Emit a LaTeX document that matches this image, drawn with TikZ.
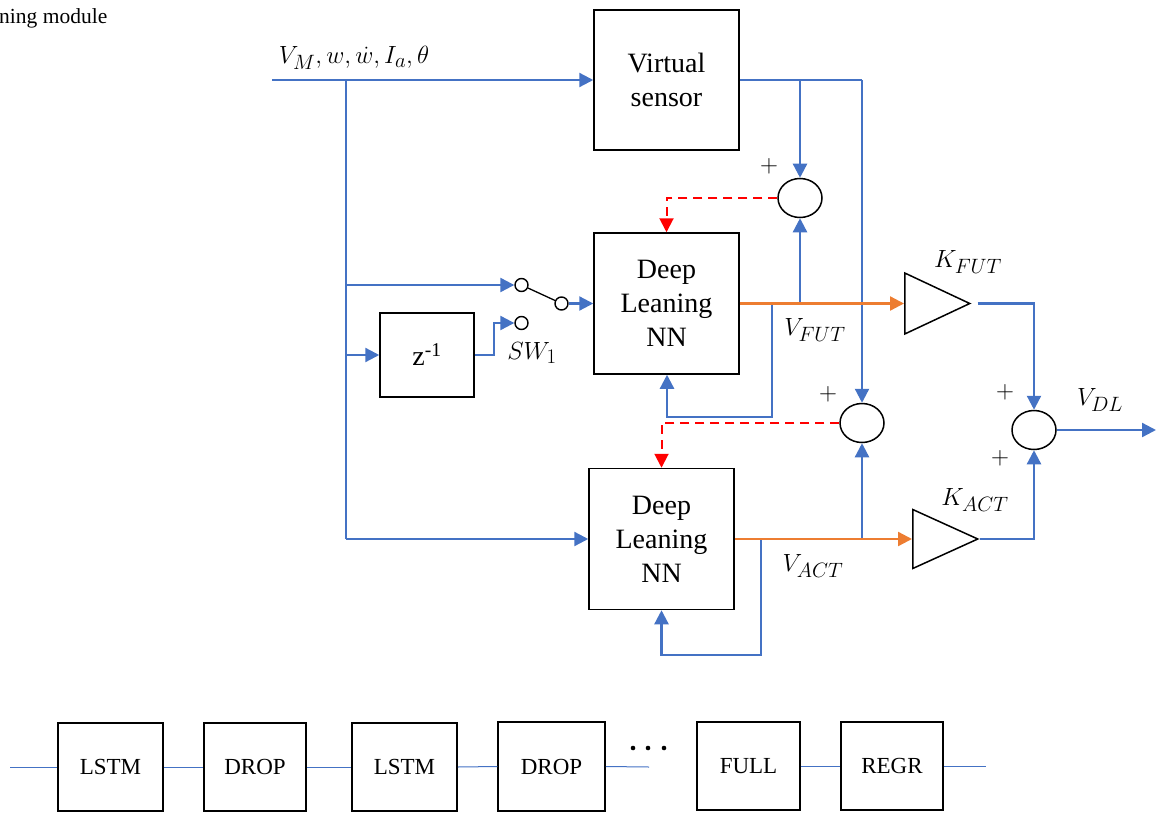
\documentclass[tikz,border=0pt]{standalone}
\usepackage{fontspec}
\setmainfont{Liberation Serif}
\usetikzlibrary{arrows.meta,shapes.geometric}
\definecolor{wblue}{HTML}{4472C4}
\definecolor{worange}{HTML}{ED7D31}
\definecolor{wred}{HTML}{FF0000}
\begin{document}
\begin{tikzpicture}[x=1pt,y=-1pt,
  box/.style={draw=black,line width=1.5pt,inner sep=0pt,align=center,font=\fontsize{28}{34}\selectfont},
  chainbox/.style={draw=black,line width=1.5pt,inner sep=0pt,font=\fontsize{23}{28}\selectfont},
  sumj/.style={draw=black,ellipse,line width=1.5pt,minimum width=44pt,minimum height=39pt,inner sep=0pt},
  gain/.style={draw=black,isosceles triangle,isosceles triangle stretches,line width=1.5pt,minimum width=63pt,minimum height=65pt,inner sep=0pt,anchor=lower side},
  contact/.style={draw=black,circle,line width=1.4pt,minimum size=13pt,inner sep=0pt},
  sig/.style={draw=wblue,line width=2.3pt},
  tip/.style={-{Triangle[length=14pt,width=14pt]}},
  sigarr/.style={sig,tip},
  oarr/.style={draw=worange,line width=2.3pt,tip},
  rarr/.style={draw=wred,line width=2pt,dash pattern=on 9pt off 6pt,tip},
  chainline/.style={draw=wblue,line width=1pt},
  mlabel/.style={font=\fontsize{28}{32}\selectfont,inner sep=0pt},
  plus/.style={font=\fontsize{30}{32}\selectfont,inner sep=0pt}
]
\useasboundingbox (0,0) rectangle (1158,813);

% caption fragment
\node[anchor=west,inner sep=0pt,font=\fontsize{21.5}{24}\selectfont] (cap) at (-1,18) {ning module};

% input label
\node[mlabel] (inlab) at (354,58) {$V_M, w, \dot{w}, I_a, \theta$};

% blocks
\node[box,minimum width=145pt,minimum height=140pt] (vs) at (666.5,80) {Virtual\\sensor};
\node[box,minimum width=145pt,minimum height=141pt] (dl1) at (666.5,303.5) {Deep\\Leaning\\NN};
\node[box,minimum width=145pt,minimum height=141pt] (dl2) at (661.5,539) {Deep\\Leaning\\NN};
\node[box,minimum width=94pt,minimum height=84pt] (z) at (427,355) {z\textsuperscript{-1}};

% summing junctions
\node[sumj] (sum1) at (800,198) {};
\node[sumj] (sum2) at (862,423) {};
\node[sumj] (sum3) at (1034,430) {};

% gains
\node[gain,minimum width=61pt] (kfut) at (904,303.5) {};
\node[gain,minimum width=59pt] (kact) at (912,539) {};

% switch contacts
\node[contact] (c1) at (521.5,285) {};
\node[contact] (c2) at (561.5,303.5) {};
\node[contact] (c3) at (521.5,323) {};

% coordinates
\coordinate (in) at (272,80);
\coordinate (t0) at (346,80);
\coordinate (t1) at (346,285);
\coordinate (t2) at (346,355);
\coordinate (t3) at (346,539);
\coordinate (zk) at (494,323);
\coordinate (v1) at (800,80);
\coordinate (v2) at (862,80);
\coordinate (o1) at (800,303.5);
\coordinate (f1) at (772,303.5);
\coordinate (f1c) at (667,417);
\coordinate (o2) at (862,539);
\coordinate (f2) at (761,539);
\coordinate (f2c) at (661.5,655);
\coordinate (out) at (1156,430);

% input distribution
\draw[sigarr] (in) -- (vs.west);
\draw[sig] (t0) -- (t3);
\draw[sigarr] (t1) -- (c1.west);
\draw[sigarr] (t2) -- (z.west);
\draw[sigarr] (t3) -- (dl2.west);
\draw[sigarr] (z.east) -| (zk) -- (c3.west);

% switch blade
\draw[black,line width=1.3pt] (c1.-25) -- (c2.155);
\draw[sigarr] (c2.east) -- (dl1.west);

% virtual sensor outputs
\draw[sig] (vs.east) -- (v2);
\draw[sigarr] (v1) -- (sum1.north);
\draw[sigarr] (v2) -- (sum2.north);

% future branch
\draw[sigarr] (f1) |- (f1c) -- (f1c |- dl1.south);
\draw[sigarr] (o1) -- (sum1.south);
\draw[oarr] (dl1.east) -- (kfut.lower side);
\draw[rarr] (sum1.west) -| (dl1.north);

% actual branch
\draw[sigarr] (f2) |- (f2c) -- (dl2.south);
\draw[sigarr] (o2) -- (sum2.south);
\draw[oarr] (dl2.east) -- (kact.lower side);
\draw[rarr] (sum2.west) -| (dl2.north);

% output summation
\draw[sigarr] ([xshift=6pt]kfut.apex) -| (sum3.north);
\draw[sigarr] (kact.apex) -| (sum3.south);
\draw[sigarr] (sum3.east) -- (out);

% labels
\node[mlabel] (sw) at (532,353) {$SW_1$};
\node[mlabel] (vfut) at (815,330) {$V_{FUT}$};
\node[mlabel] (vact) at (813,566) {$V_{ACT}$};
\node[mlabel] (kfutl) at (968,262) {$K_{FUT}$};
\node[mlabel] (kactl) at (975,500) {$K_{ACT}$};
\node[mlabel] (vdl) at (1100,400) {$V_{DL}$};
\node[plus] (p1) at (769,166) {$+$};
\node[plus] (p2) at (828,394) {$+$};
\node[plus] (p3) at (1005,392) {$+$};
\node[plus] (p4) at (1000,458) {$+$};

% layer chain
\node[chainbox,minimum width=105pt,minimum height=88pt] (b1) at (110.5,767) {LSTM};
\node[chainbox,minimum width=102pt,minimum height=88pt] (b2) at (255,767) {DROP};
\node[chainbox,minimum width=105pt,minimum height=88pt] (b3) at (404.5,767) {LSTM};
\node[chainbox,minimum width=107pt,minimum height=89pt] (b4) at (551.5,766.5) {DROP};
\node[chainbox,minimum width=103pt,minimum height=88pt] (b5) at (748.5,766) {FULL};
\node[chainbox,minimum width=102pt,minimum height=88pt] (b6) at (892,766) {REGR};
\coordinate (cin) at (10,767);
\coordinate (cmid) at (649,767);
\coordinate (cout) at (986,766);
\draw[chainline] (cin) -- (b1.west);
\draw[chainline] (b1.east) -- (b2.west);
\draw[chainline] (b2.east) -- (b3.west);
\draw[chainline] (b3.east) -- (b4.west);
\draw[chainline] (b4.east) -- (cmid);
\draw[chainline] (b5.east) -- (b6.west);
\draw[chainline] (b6.east) -- (cout);
\fill[black] (633,748) circle (2.3pt) (648,748) circle (2.3pt) (664,748) circle (2.3pt);
\end{tikzpicture}
\end{document}
